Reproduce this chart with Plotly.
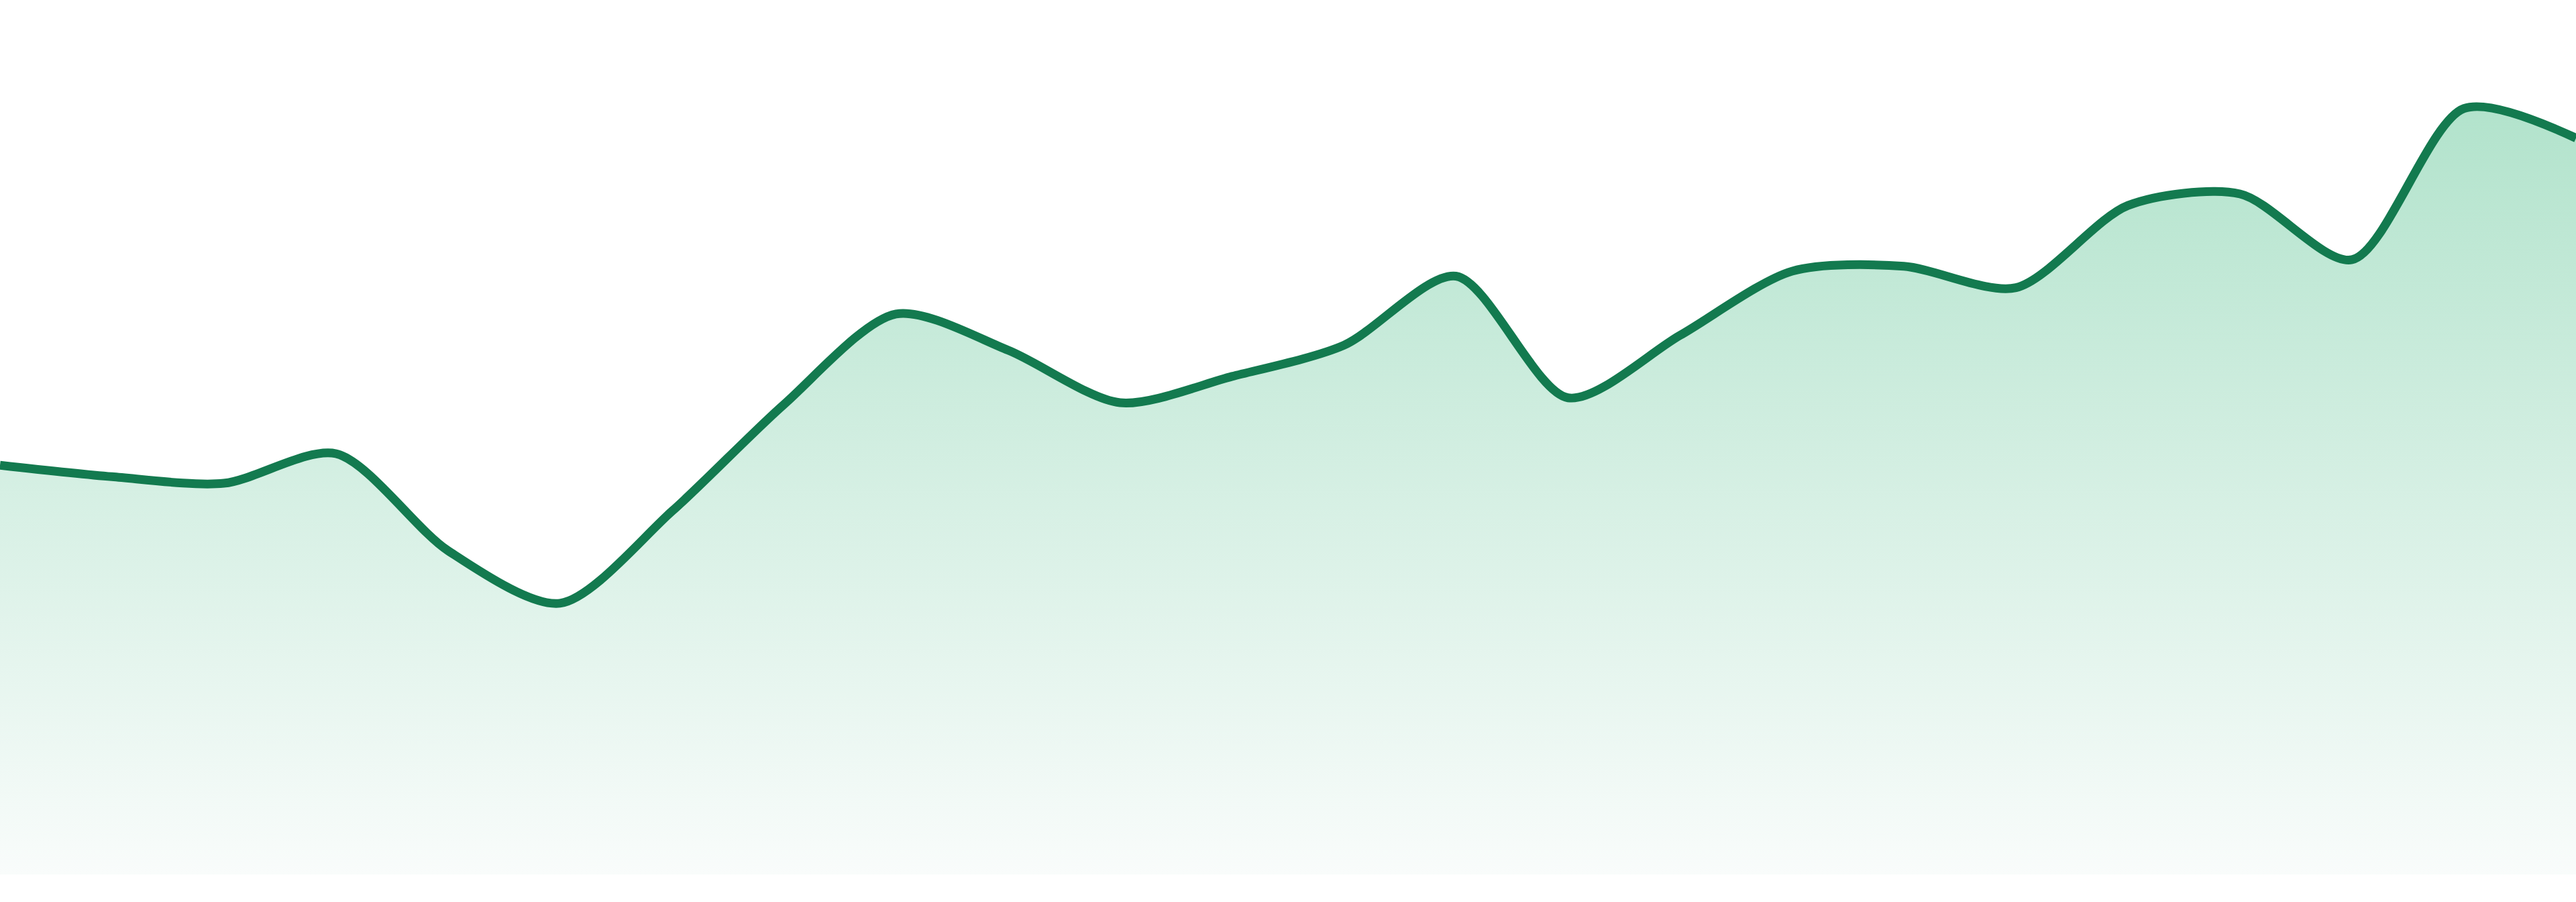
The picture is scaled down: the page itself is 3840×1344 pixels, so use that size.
import plotly.graph_objects as go

# one value per step (arbitrary units, baseline 0)
steps = list(range(24))
values = [249, 242, 238, 256, 197, 165, 221, 286, 341, 319, 287, 303,
          322, 364, 290, 328, 367, 370, 357, 407, 414, 374, 466, 448]

LINE = "#137a4f"
FILL_TOP = "#b2e3cc"
FILL_BOTTOM = "#f9fcfb"

fig = go.Figure()
fig.add_trace(go.Scatter(
    x=steps, y=values,
    mode="lines",
    line=dict(color=LINE, width=13, shape="spline", smoothing=0.8),
    fill="tozeroy",
    fillgradient=dict(type="vertical", start=0, stop=max(values),
                      colorscale=[[0, FILL_BOTTOM], [1, FILL_TOP]]),
    hoverinfo="skip",
    showlegend=False,
))

fig.update_xaxes(range=[0, len(steps) - 1], visible=False, fixedrange=True)
fig.update_yaxes(range=[0, 532], visible=False, fixedrange=True)
fig.update_layout(
    width=3840, height=1344,
    margin=dict(l=0, r=0, t=0, b=41),
    paper_bgcolor="white", plot_bgcolor="white",
)

# browser default body margin would shift the chart off the page edge
fig.write_html("out.html", config={"displayModeBar": False},
               post_script="document.body.style.margin = '0';")
